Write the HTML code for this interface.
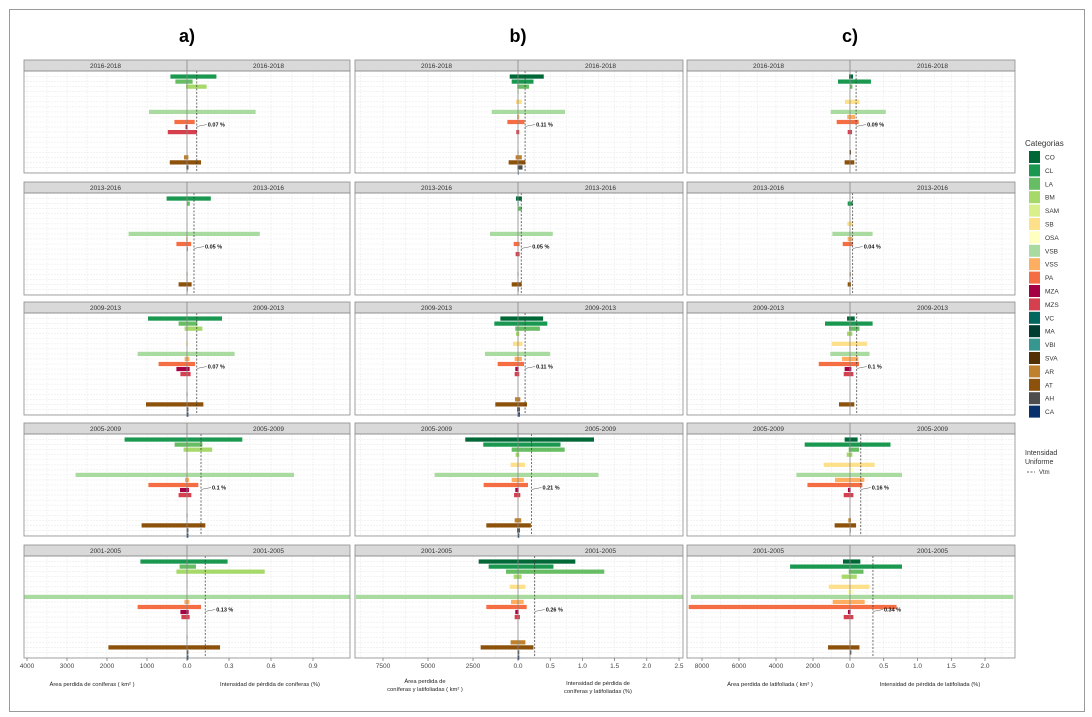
<!DOCTYPE html>
<html><head><meta charset="utf-8"><style>
html,body{margin:0;padding:0;background:#fff;}
svg{display:block;font-family:"Liberation Sans",Arial,sans-serif;}
</style></head><body>
<svg id="chart" width="1092" height="717" viewBox="0 0 1092 717" xmlns="http://www.w3.org/2000/svg"></svg>
<script>
const categories=["CO","CL","LA","BM","SAM","SB","OSA","VSB","VSS","PA","MZA","MZS","VC","MA","VBI","SVA","AR","AT","AH","CA"];
const catColors=["#006837","#1a9850","#66bd63","#a6d96a","#d9ef8b","#fee08b","#ffffbf","#a9dba0","#fdae61","#f46d43","#a50044","#d6404e","#01665e","#003c30","#35978f","#543005","#bf812d","#8c510a","#4d4d4d","#08306b"];
const periods=["2016-2018","2013-2016","2009-2013","2005-2009","2001-2005"];
// Column a (coniferas)
const areaA1=[415,290,25,0,0,5,0,950,0,315,35,480,0,0,0,0,75,430,15,0];
const intA1=[.21,.04,.14,0,0,.005,0,.49,0,.055,.004,.07,0,0,0,0,.01,.1,.01,0];
const areaA2=[510,0,0,0,0,5,0,1460,20,265,5,0,0,0,0,10,10,210,5,0];
const intA2=[.17,.02,0,0,0,.003,0,.52,.005,.03,.005,0,0,0,0,.003,.003,.033,.005,0];
const areaA3=[975,210,60,0,0,20,0,1235,60,710,265,165,0,0,0,10,0,1025,10,10];
const intA3=[.25,.074,.11,0,0,.005,0,.34,.017,.057,.019,.026,0,0,0,.003,0,.117,.01,.01];
const areaA4=[1560,310,85,0,0,10,0,2785,50,965,175,210,0,0,0,10,0,1135,10,10];
const intA4=[.395,.11,.18,0,0,.005,0,.764,.014,.081,.014,.031,0,0,0,.003,0,.131,.01,.01];
const areaA5=[1165,185,265,0,5,5,0,4100,65,1235,165,140,0,0,0,5,0,1965,10,10];
const intA5=[.29,.064,.555,0,.005,.005,0,1.2,.017,.1,.012,.019,0,0,0,.003,0,.236,.01,.01];
const vtmA=[0.07,0.05,0.07,0.1,0.13];
// Column b (coniferas y latifoliadas)
const areaB1=[460,350,40,20,0,110,0,1460,55,590,0,95,0,0,0,10,130,520,30,10];
const intB1=[.4,.24,.17,.01,0,.06,0,.73,.02,.1,0,.02,0,0,0,.005,.06,.115,.07,.01];
const areaB2=[110,20,0,0,10,0,0,1555,0,240,0,130,0,0,0,20,0,350,10,0];
const intB2=[.06,.01,.06,0,.005,0,0,.54,0,.025,0,.025,0,0,0,.005,0,.057,.01,0];
const areaB3=[980,1315,150,110,0,280,0,1835,185,1130,150,185,0,0,0,0,165,1260,55,20];
const intB3=[.39,.455,.34,.02,0,.07,0,.5,.06,.093,.01,.02,0,0,0,0,.036,.14,.03,.03];
const areaB4=[2930,1930,350,130,0,410,0,4630,350,1910,150,220,0,0,0,0,185,1760,55,20];
const intB4=[1.18,.66,.725,.02,0,.11,0,1.25,.09,.155,.01,.036,0,0,0,0,.05,.2,.03,.02];
const areaB5=[2185,1630,665,240,0,460,0,9000,390,1760,150,185,0,0,0,0,410,2075,30,30];
const intB5=[.89,.55,1.34,.057,0,.115,0,2.6,.088,.135,.01,.03,0,0,0,0,.115,.24,.02,.02];
const vtmB=[0.11,0.05,0.11,0.21,0.26];
// Column c (latifoliada)
const areaC1=[55,650,0,0,0,270,0,1045,145,720,0,125,0,0,0,30,0,290,0,0];
const intC1=[.045,.31,.035,0,0,.14,0,.53,.074,.128,0,.03,0,0,0,.015,0,.064,0,0];
const areaC2=[0,125,0,0,0,145,0,955,125,395,0,0,0,0,0,20,0,125,0,0];
const intC2=[0,.04,0,0,0,.04,0,.335,.035,.04,0,0,0,0,0,.01,0,.015,0,0];
const areaC3=[160,1350,55,160,0,990,0,1065,430,1690,290,340,0,0,0,0,0,595,0,0];
const intC3=[.07,.335,.14,.035,0,.25,0,.29,.123,.133,.02,.05,0,0,0,0,0,.064,0,0];
const areaC4=[290,2450,70,180,0,1420,0,2900,810,2300,110,340,0,0,0,0,90,830,0,0];
const intC4=[.113,.6,.133,.035,0,.365,.045,.77,.212,.183,.01,.05,0,0,0,0,.015,.09,.01,0];
const areaC5=[380,3240,70,450,0,1150,110,8600,935,8720,110,340,0,0,0,0,30,1190,20,0];
const intC5=[.153,.77,.2,.1,0,.29,.06,2.42,.217,.69,.01,.05,0,0,0,0,.01,.14,.02,0];
const vtmC=[0.09,0.04,0.1,0.16,0.34];
const leftTicksA=[4000,3000,2000,1000];const rightTicksA=[0.3,0.6,0.9];
const leftTicksB=[7500,5000,2500];const rightTicksB=[0.5,1.0,1.5,2.0,2.5];
const leftTicksC=[8000,6000,4000,2000];const rightTicksC=[0.5,1.0,1.5,2.0];

const NS="http://www.w3.org/2000/svg";
const svg=document.getElementById('chart');
function mk(tag,attrs,parent){const e=document.createElementNS(NS,tag);for(const k in attrs)e.setAttribute(k,attrs[k]);(parent||svg).appendChild(e);return e;}
function txt(s,attrs,parent){const e=mk('text',attrs,parent);e.textContent=s;return e;}

const frame=mk('rect',{x:9.5,y:9.5,width:1075,height:702,fill:'none',stroke:'#9a9a9a','stroke-width':1});



const cols=[
 {key:'a',title:'a)',x0:24,x1:350,cx:187,lk:40/1000,rk:140,areas:[areaA1,areaA2,areaA3,areaA4,areaA5],ints:[intA1,intA2,intA3,intA4,intA5],vtm:vtmA,lt:leftTicksA,rt:rightTicksA,fmtR:v=>v.toFixed(1),
  colorOverride:{0:'#1a9850',1:'#66bd63',2:'#a6d96a'}},
 {key:'b',title:'b)',x0:355,x1:683,cx:518,lk:18/1000,rk:64.4,areas:[areaB1,areaB2,areaB3,areaB4,areaB5],ints:[intB1,intB2,intB3,intB4,intB5],vtm:vtmB,lt:leftTicksB,rt:rightTicksB,fmtR:v=>v.toFixed(1),colorOverride:{}},
 {key:'c',title:'c)',x0:687,x1:1015,cx:850,lk:18.5/1000,rk:67.5,areas:[areaC1,areaC2,areaC3,areaC4,areaC5],ints:[intC1,intC2,intC3,intC4,intC5],vtm:vtmC,lt:leftTicksC,rt:rightTicksC,fmtR:v=>v.toFixed(1),colorOverride:{}}
];
const panelTops=[71,193,313,434,556];const PH=102;const SH=11;

cols.forEach((c,ci)=>{
 const t=txt(c.title,{x:c.cx,y:42,'text-anchor':'middle','font-size':18,'font-weight':'bold',fill:'#000'});
 
 
 const xL=v=>c.cx-v*c.lk, xR=v=>c.cx+v*c.rk;
 const clip=mk('clipPath',{id:'clip'+ci});mk('rect',{x:c.x0,y:0,width:c.x1-c.x0,height:717},clip);
 periods.forEach((p,pi)=>{
  const top=panelTops[pi];
  const g=mk('g',{});
  
  
  mk('rect',{x:c.x0,y:top,width:c.x1-c.x0,height:PH,fill:'#fff'},g);
  const step=PH/20.2;
  // horizontal grid
  for(let i=0;i<categories.length;i++){const y=top+(1.1+i)*step;mk('line',{x1:c.x0,x2:c.x1,y1:y,y2:y,stroke:'#ececec','stroke-width':0.6,'stroke-dasharray':'2,1'},g);}
  // vertical grid
  const lstep=c.lt[0]-c.lt[1];
  for(let v=lstep/2;xL(v)>c.x0;v+=lstep/2){mk('line',{x1:xL(v),x2:xL(v),y1:top,y2:top+PH,stroke:'#ececec','stroke-width':0.6,'stroke-dasharray':'2,1'},g);}
  const rstep=c.rt[1]-c.rt[0];
  for(let v=rstep/2;xR(v)<c.x1;v+=rstep/2){mk('line',{x1:xR(v),x2:xR(v),y1:top,y2:top+PH,stroke:'#ececec','stroke-width':0.6,'stroke-dasharray':'2,1'},g);}
  // strip
  const s=mk('rect',{x:c.x0,y:top-SH,width:c.x1-c.x0,height:SH,fill:'#d9d9d9',stroke:'#8c8c8c','stroke-width':0.8},g);
  
  
  txt(p,{x:(c.x0+c.cx)/2,y:top-3,'text-anchor':'middle','font-size':6.5,fill:'#333'},g);
  txt(p,{x:(c.cx+c.x1)/2,y:top-3,'text-anchor':'middle','font-size':6.5,fill:'#333'},g);
  // bars
  const bg=mk('g',{'clip-path':'url(#clip'+ci+')'},g);
  const A=c.areas[pi],I=c.ints[pi];
  categories.forEach((cat,i)=>{
   const col=c.colorOverride[i]||catColors[i];
   const y=top+(1.1+i)*step-step*0.42;const h=step*0.84;
   if(A[i]>0){const r=mk('rect',{x:xL(A[i]),y:y,width:A[i]*c.lk,height:h,fill:col},bg);
    
    }
   if(I[i]>0){const r=mk('rect',{x:c.cx,y:y,width:I[i]*c.rk,height:h,fill:col},bg);
    
    }
  });
  mk('line',{x1:c.cx,x2:c.cx,y1:top-SH,y2:top+PH,stroke:'#888','stroke-width':0.8},g);
  const xv=xR(c.vtm[pi]);
  const vl=mk('line',{x1:xv,x2:xv,y1:top,y2:top+PH,stroke:'#333','stroke-width':0.7,'stroke-dasharray':'2,1.5'},g);
  
  
  const ly=top+(1.1+9.7)*step;
  mk('path',{d:`M${xv} ${ly+1.5} l2 -1 L${xv+10} ${ly-1}`,stroke:'#555','stroke-width':0.5,fill:'none'},g);
  const vt=txt(c.vtm[pi]+' %',{x:xv+11,y:ly+1,'font-size':5.5,'font-weight':'bold',fill:'#111'},g);
  
  
  mk('rect',{x:c.x0,y:top,width:c.x1-c.x0,height:PH,fill:'none',stroke:'#8c8c8c','stroke-width':0.8},g);
 });
 // x axis ticks
 const ax=mk('g',{});
 
 
 const ty=658;
 const allL=[0].concat(c.lt);
 allL.forEach(v=>{const x=xL(v);if(x<c.x0-2)return;mk('line',{x1:x,x2:x,y1:ty,y2:ty+3,stroke:'#555','stroke-width':0.6},ax);
   txt(v===0?'0.0':String(v),{x:x,y:ty+10,'text-anchor':'middle','font-size':6.5,fill:'#444'},ax);});
 c.rt.forEach(v=>{const x=xR(v);mk('line',{x1:x,x2:x,y1:ty,y2:ty+3,stroke:'#555','stroke-width':0.6},ax);
   txt(c.fmtR(v),{x:x,y:ty+10,'text-anchor':'middle','font-size':6.5,fill:'#444'},ax);});
});
// axis titles
function title(lines,x,y,name){const t=txt('',{x:x,y:y,'text-anchor':'middle','font-size':5.8,fill:'#222'});
 lines.forEach((l,i)=>{const ts=mk('tspan',{x:x,dy:i?8:0},t);ts.textContent=l;});
 
 }
title(['Área perdida de coníferas ( km² )'],92,686,'x-title-area-a');
title(['Intensidad de pérdida de coníferas (%)'],270,686,'x-title-intensity-a');
title(['Área perdida de','coníferas y latifoliadas ( km² )'],425,683,'x-title-area-b');
title(['Intensidad de pérdida de','coníferas y latifoliadas (%)'],598,685,'x-title-intensity-b');
title(['Área perdida de latifoliada ( km² )'],770,686,'x-title-area-c');
title(['Intensidad de pérdida de latifoliada (%)'],930,686,'x-title-intensity-c');
// legend
const lg=mk('g',{});


txt('Categorias',{x:1025,y:146,'font-size':8,fill:'#333'},lg);
categories.forEach((cat,i)=>{const y=151+i*13.4;
 const r=mk('rect',{x:1029,y:y,width:11,height:12,fill:catColors[i]},lg);
 
 
 txt(cat,{x:1045,y:y+8.5,'font-size':6.5,fill:'#333'},lg);});
txt('Intensidad',{x:1025,y:455,'font-size':7,fill:'#333'},lg);
txt('Uniforme',{x:1025,y:464,'font-size':7,fill:'#333'},lg);
mk('line',{x1:1027,x2:1035,y1:472,y2:472,stroke:'#333','stroke-width':0.7,'stroke-dasharray':'2,1.5'},lg);
txt('Vtm',{x:1039,y:474,'font-size':6,fill:'#333'},lg);
</script>
</body></html>
